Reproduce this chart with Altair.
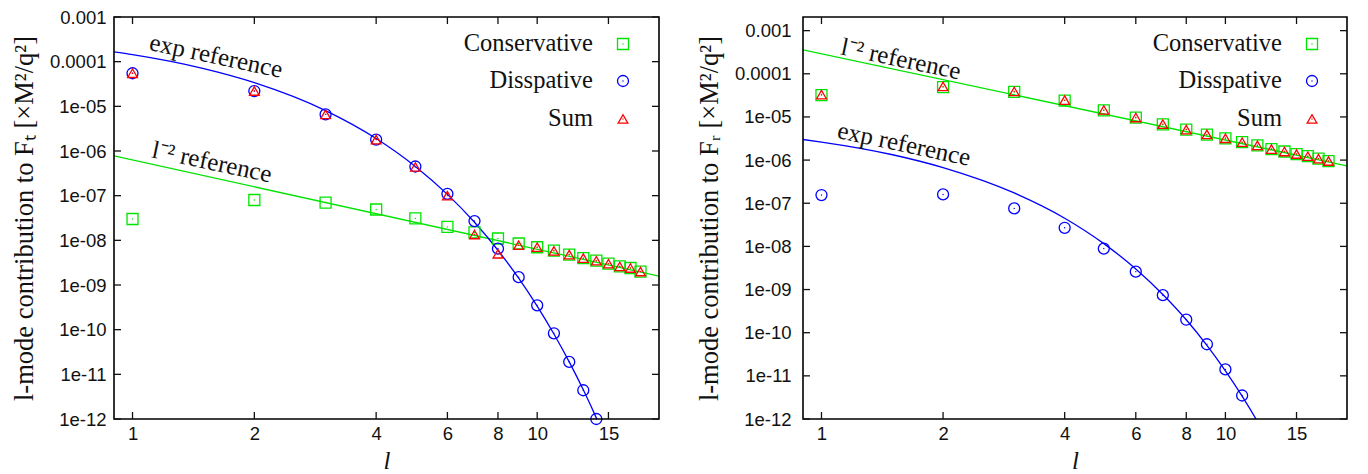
import altair as alt
import pandas as pd

# ---------------- data ----------------
l_all = list(range(1, 19))

# left panel (F_t)
cons_t = [3.0e-8, 8.0e-8, 7.0e-8, 4.9e-8, 3.1e-8, 2.0e-8, 1.5e-8, 1.1e-8, 8.5e-9,
          7.0e-9, 5.9e-9, 4.8e-9, 4.0e-9, 3.5e-9, 3.0e-9, 2.6e-9, 2.4e-9, 2.0e-9]
diss_l_t = list(range(1, 15))
diss_t = [5.5e-5, 2.2e-5, 6.6e-6, 1.8e-6, 4.5e-7, 1.1e-7, 2.7e-8, 6.5e-9, 1.5e-9,
          3.5e-10, 8.3e-11, 1.9e-11, 4.4e-12, 1.0e-12]
sum_t = [5.5e-5, 2.2e-5, 6.6e-6, 1.8e-6, 4.4e-7, 1.0e-7, 1.35e-8, 5.0e-9, 7.8e-9,
         7.0e-9, 5.8e-9, 4.8e-9, 4.0e-9, 3.5e-9, 3.0e-9, 2.6e-9, 2.4e-9, 2.0e-9]
exp_ref_l_t = [0.9, 1, 1.5, 2, 3, 4, 5, 6, 7, 8, 9, 10, 11, 12, 13, 14, 15]
exp_ref_t = [1.66e-4, 1.44e-4, 7.0e-5, 3.4e-5, 8.05e-6, 1.91e-6, 4.52e-7, 1.07e-7,
             2.54e-8, 6.0e-9, 1.42e-9, 3.37e-10, 8.0e-11, 1.9e-11, 4.5e-12,
             1.06e-12, 2.5e-13]
pow_ref_l = [0.9, 20]
pow_ref_t = [7.8e-7, 1.58e-9]

# right panel (F_r)
cons_r = [3.2e-5, 4.9e-5, 3.8e-5, 2.4e-5, 1.42e-5, 9.6e-6, 6.7e-6, 5.1e-6, 3.9e-6,
          3.2e-6, 2.6e-6, 2.2e-6, 1.8e-6, 1.58e-6, 1.38e-6, 1.23e-6, 1.08e-6, 9.5e-7]
diss_l_r = list(range(1, 12))
diss_r = [1.55e-7, 1.6e-7, 7.6e-8, 2.7e-8, 8.9e-9, 2.6e-9, 7.4e-10, 2.0e-10,
          5.4e-11, 1.41e-11, 3.5e-12]
sum_r = [3.3e-5, 5.1e-5, 3.9e-5, 2.45e-5, 1.45e-5, 9.7e-6, 6.8e-6, 5.1e-6, 3.95e-6,
         3.2e-6, 2.6e-6, 2.2e-6, 1.8e-6, 1.58e-6, 1.38e-6, 1.23e-6, 1.08e-6, 9.5e-7]
exp_ref_l_r = [0.9, 1, 1.5, 2, 3, 4, 5, 6, 7, 8, 9, 10, 11, 12, 13]
exp_ref_r = [3.0e-6, 2.62e-6, 1.33e-6, 6.7e-7, 1.73e-7, 4.5e-8, 1.16e-8, 3.0e-9,
             7.7e-10, 2.0e-10, 5.1e-11, 1.31e-11, 3.4e-12, 8.8e-13, 2.3e-13]
pow_ref_r = [3.6e-4, 7.3e-7]

# axes
x_ticks = [1, 2, 4, 6, 8, 10, 15]
y_ticks = [1e-12, 1e-11, 1e-10, 1e-9, 1e-8, 1e-7, 1e-6, 1e-5, 1e-4, 1e-3]
y_tick_labels = ["1e-12", "1e-11", "1e-10", "1e-09", "1e-08", "1e-07",
                 "1e-06", "1e-05", "0.0001", "0.001"]
legend_names = ["Conservative", "Disspative", "Sum"]

GREEN = "#00e400"
BLUE = "#0000ff"
RED = "#ff0000"
INK = "#111111"
SERIF = "Liberation Serif"
SANS = "Liberation Sans"

label_expr = " : ".join(
    f"abs(datum.value / {v!r} - 1) < 0.001 ? '{lab}'" for v, lab in zip(y_ticks, y_tick_labels)
) + " : ''"


def panel(cons, diss_l, diss, summ, exl, exv, powv, ytitle, ymax, W, H, lab_pad,
          ann_pow, ann_exp):
    xs = alt.Scale(type="log", domain=[0.9, 20], nice=False)
    ys = alt.Scale(type="log", domain=[1e-12, ymax], nice=False)
    xaxis = alt.Axis(values=x_ticks, format="d", title="l", ticks=False, domain=False,
                     grid=False, labelFont=SANS, labelFontSize=18.5, labelColor=INK,
                     labelPadding=5, titleFont=SERIF, titleFontStyle="italic",
                     titleFontWeight="normal", titleFontSize=25, titleColor=INK,
                     titlePadding=6)
    yaxis = alt.Axis(values=y_ticks, labelExpr=label_expr, title=ytitle, ticks=False,
                     domain=False, grid=False, labelFont=SANS, labelFontSize=18.5,
                     labelColor=INK, labelPadding=lab_pad, titleFont=SERIF,
                     titleFontWeight="normal", titleFontSize=26.5, titleColor=INK,
                     titlePadding=11)

    def X():
        return alt.X("l:Q", scale=xs, axis=xaxis)

    def Y():
        return alt.Y("v:Q", scale=ys, axis=yaxis)

    df_cons = pd.DataFrame({"l": l_all, "v": cons})
    df_diss = pd.DataFrame({"l": diss_l, "v": diss})
    df_sum = pd.DataFrame({"l": l_all, "v": summ})
    df_exp = pd.DataFrame({"l": exl, "v": exv})
    df_pow = pd.DataFrame({"l": pow_ref_l, "v": powv})
    df_xt = pd.DataFrame({"l": x_ticks})
    df_yt = pd.DataFrame({"v": y_ticks})
    one = pd.DataFrame({"a": [0]})

    layers = []
    layers.append(alt.Chart(df_pow).mark_line(color=GREEN, strokeWidth=1.3, clip=True)
                  .encode(x=X(), y=Y()))
    layers.append(alt.Chart(df_exp).mark_line(color=BLUE, strokeWidth=1.3, clip=True,
                                              interpolate="monotone")
                  .encode(x=X(), y=Y()))
    for df, shape, col, size in [(df_cons, "square", GREEN, 121),
                                 (df_diss, "circle", BLUE, 121),
                                 (df_sum, "triangle-up", RED, 95)]:
        layers.append(alt.Chart(df).mark_point(shape=shape, filled=False, size=size,
                                               strokeWidth=1.3, color=col, opacity=1)
                      .encode(x=X(), y=Y()))
        layers.append(alt.Chart(df).mark_circle(size=2, color=col, opacity=1)
                      .encode(x=X(), y=Y()))

    # frame around the plot area
    layers.append(alt.Chart(one).mark_rect(filled=False, stroke="#000000",
                                           strokeWidth=1.6, strokeOpacity=1,
                                           fillOpacity=0)
                  .encode(x=alt.value(0), x2=alt.value(W), y=alt.value(0),
                          y2=alt.value(H)))

    # inward ticks on all four sides
    tick_kw = dict(color=INK, strokeWidth=1.3)
    layers.append(alt.Chart(df_xt).mark_rule(**tick_kw).encode(
        x=X(), y=alt.value(H), y2=alt.value(H - 7)))
    layers.append(alt.Chart(df_xt).mark_rule(**tick_kw).encode(
        x=X(), y=alt.value(0), y2=alt.value(7)))
    layers.append(alt.Chart(df_yt).mark_rule(**tick_kw).encode(
        y=Y(), x=alt.value(0), x2=alt.value(7)))
    layers.append(alt.Chart(df_yt).mark_rule(**tick_kw).encode(
        y=Y(), x=alt.value(W), x2=alt.value(W - 7)))

    # key
    key_y = [27, 64, 102]
    key_shapes = [("square", GREEN, 121), ("circle", BLUE, 121), ("triangle-up", RED, 95)]
    for name, yy, (shape, col, size) in zip(legend_names, key_y, key_shapes):
        layers.append(alt.Chart(one).mark_text(font=SERIF, fontSize=24.5, align="right",
                                               baseline="middle", color=INK)
                      .encode(x=alt.value(479), y=alt.value(yy), text=alt.value(name)))
        layers.append(alt.Chart(one).mark_point(shape=shape, filled=False, size=size,
                                                strokeWidth=1.3, color=col, opacity=1)
                      .encode(x=alt.value(509), y=alt.value(yy)))
        layers.append(alt.Chart(one).mark_circle(size=2, color=col, opacity=1)
                      .encode(x=alt.value(509), y=alt.value(yy)))

    # curve annotations
    for txt, (ax, ay) in [("l\u207b\u00b2 reference", ann_pow), ("exp reference", ann_exp)]:
        layers.append(alt.Chart(one).mark_text(font=SERIF, fontSize=25, align="center",
                                               baseline="middle", angle=12, color=INK)
                      .encode(x=alt.value(ax), y=alt.value(ay), text=alt.value(txt)))

    return alt.layer(*layers).properties(width=W, height=H)


left = panel(cons_t, diss_l_t, diss_t, sum_t, exp_ref_l_t, exp_ref_t, pow_ref_t,
             "l-mode contribution to F\u209c [\u00d7M\u00b2/q\u00b2]", 1e-3, 545, 402, 8,
             (98, 145), (102, 39))
right = panel(cons_r, diss_l_r, diss_r, sum_r, exp_ref_l_r, exp_ref_r, pow_ref_r,
              "l-mode contribution to F\u1d63 [\u00d7M\u00b2/q\u00b2]", 2.07e-3, 544, 402, 12,
              (98, 42), (101, 127))

chart = alt.hconcat(left, right, spacing=36).properties(
    padding={"left": 3, "top": 0, "right": 0, "bottom": 0}
).configure(background="white",
            view=alt.ViewConfig(strokeWidth=0))

chart.save("out.html", embed_options={"renderer": "svg", "actions": False})
